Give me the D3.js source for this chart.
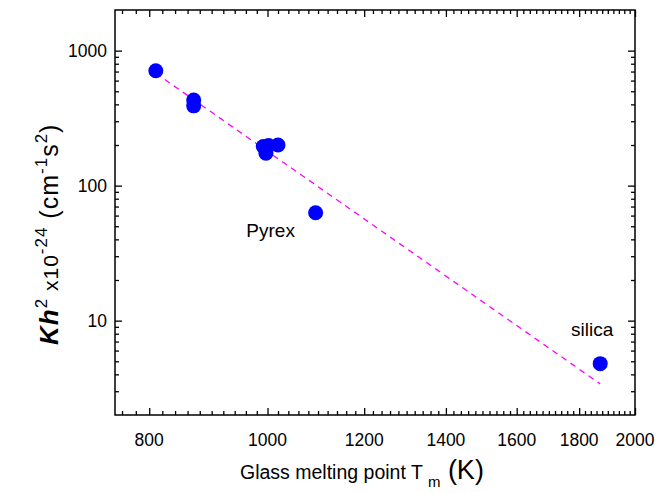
<!DOCTYPE html>
<html><head><meta charset="utf-8">
<script src="https://cdn.jsdelivr.net/npm/d3@7"></script>
<style>body{margin:0;background:#fff}svg{display:block;font-family:"Liberation Sans",Arial,sans-serif}</style>
</head><body><svg id="c" width="666" height="493"></svg>
<script>
// Data
const meltingPoint = [810, 870, 870, 992, 997, 1002, 1020, 1095, 1873];
const khValue      = [710, 430, 390, 195, 174, 198, 200, 63, 4.8];
const fitX = [810, 1873];
const fitY = [680, 3.4];
const xMajorTicks = [800, 1000, 1200, 1400, 1600, 1800, 2000];
const yMajorTicks = [10, 100, 1000];
const labels = [{text: "Pyrex", x: 1095, y: 63}, {text: "silica", x: 1873, y: 4.8}];

const svg = d3.select("#c");
const L = 115, R = 635, T = 10, B = 415;
const x = d3.scaleLog().domain([750, 2000]).range([L, R]);
const y = d3.scaleLog().domain([2, 2000]).range([B, T]);

const xMinor = d3.range(760, 2000, 20).filter(v => !xMajorTicks.includes(v));
const yMinor = [];
[1, 10, 100, 1000].forEach(d => { for (let k = 2; k <= 9; k++) { const v = d * k; if (v > 2 && v < 2000 && !yMajorTicks.includes(v)) yMinor.push(v); } });

const g = svg.append("g");
function ticks(sel, axisFn, vals, len) {
  return sel.call(axisFn.tickValues(vals).tickSize(len).tickFormat(""));
}
const major = 7, minor = 4;
const gb = g.append("g").attr("transform", `translate(0,${B})`);
ticks(gb.append("g"), d3.axisTop(x), xMinor, minor);
ticks(gb.append("g"), d3.axisTop(x), xMajorTicks, major);
const gt = g.append("g").attr("transform", `translate(0,${T})`);
ticks(gt.append("g"), d3.axisBottom(x), xMinor, minor);
ticks(gt.append("g"), d3.axisBottom(x), xMajorTicks, major);
const gl = g.append("g").attr("transform", `translate(${L},0)`);
ticks(gl.append("g"), d3.axisRight(y), yMinor, minor);
ticks(gl.append("g"), d3.axisRight(y), yMajorTicks, major);
const gr = g.append("g").attr("transform", `translate(${R},0)`);
ticks(gr.append("g"), d3.axisLeft(y), yMinor, minor);
ticks(gr.append("g"), d3.axisLeft(y), yMajorTicks, major);
g.selectAll(".domain").remove();
g.selectAll(".tick line").attr("stroke", "#000").attr("stroke-width", 1.3);

// tick labels
svg.append("g").selectAll("text").data(xMajorTicks).join("text")
  .attr("x", d => x(d)).attr("y", B + 31).attr("text-anchor", "middle")
  .attr("font-size", 17.5).text(d => d);
svg.append("g").selectAll("text").data(yMajorTicks).join("text")
  .attr("x", L - 8).attr("y", d => y(d) + 6).attr("text-anchor", "end")
  .attr("font-size", 17.5).text(d => d);

// frame
svg.append("rect").attr("x", L).attr("y", T).attr("width", R - L).attr("height", B - T)
  .attr("fill", "none").attr("stroke", "#000").attr("stroke-width", 1.5);

// fit line
svg.append("line")
  .attr("x1", x(fitX[0])).attr("y1", y(fitY[0]))
  .attr("x2", x(fitX[1])).attr("y2", y(fitY[1]))
  .attr("stroke", "#ff00ff").attr("stroke-width", 1.3).attr("stroke-dasharray", "6,5");

// points
svg.append("g").selectAll("circle").data(meltingPoint).join("circle")
  .attr("cx", d => x(d)).attr("cy", (d, i) => y(khValue[i])).attr("r", 7.5)
  .attr("fill", "#0000ff");

// annotations
svg.append("text").attr("x", x(labels[0].x) - 45).attr("y", y(labels[0].y) + 24)
  .attr("text-anchor", "middle").attr("font-size", 19).text(labels[0].text);
svg.append("text").attr("x", x(labels[1].x) - 8).attr("y", y(labels[1].y) - 28)
  .attr("text-anchor", "middle").attr("font-size", 19).text(labels[1].text);

// x title
const xt = svg.append("text").attr("x", 240).attr("y", 479).attr("font-size", 19.5);
xt.append("tspan").text("Glass melting point T ");
xt.append("tspan").attr("font-size", 15).attr("dy", 8).text("m");
xt.append("tspan").attr("font-size", 27).attr("dy", -8).text(" (K)");

// y title
const yt = svg.append("text").attr("transform", "translate(58,345) rotate(-90)")
  .attr("text-anchor", "start").attr("font-size", 25).attr("letter-spacing", 1);
yt.append("tspan").attr("font-weight", "bold").attr("font-style", "italic").attr("font-size", 26).text("Kh");
yt.append("tspan").attr("font-size", 17).attr("dy", -11).text("2");
yt.append("tspan").attr("font-size", 21).attr("dy", 11).text(" x10");
yt.append("tspan").attr("font-size", 17).attr("dy", -11).text("-24");
yt.append("tspan").attr("dy", 11).text("  (cm");
yt.append("tspan").attr("font-size", 17).attr("dy", -11).text("-1");
yt.append("tspan").attr("dy", 11).text("s");
yt.append("tspan").attr("font-size", 17).attr("dy", -11).text("2");
yt.append("tspan").attr("dy", 11).text(")");
</script></body></html>
